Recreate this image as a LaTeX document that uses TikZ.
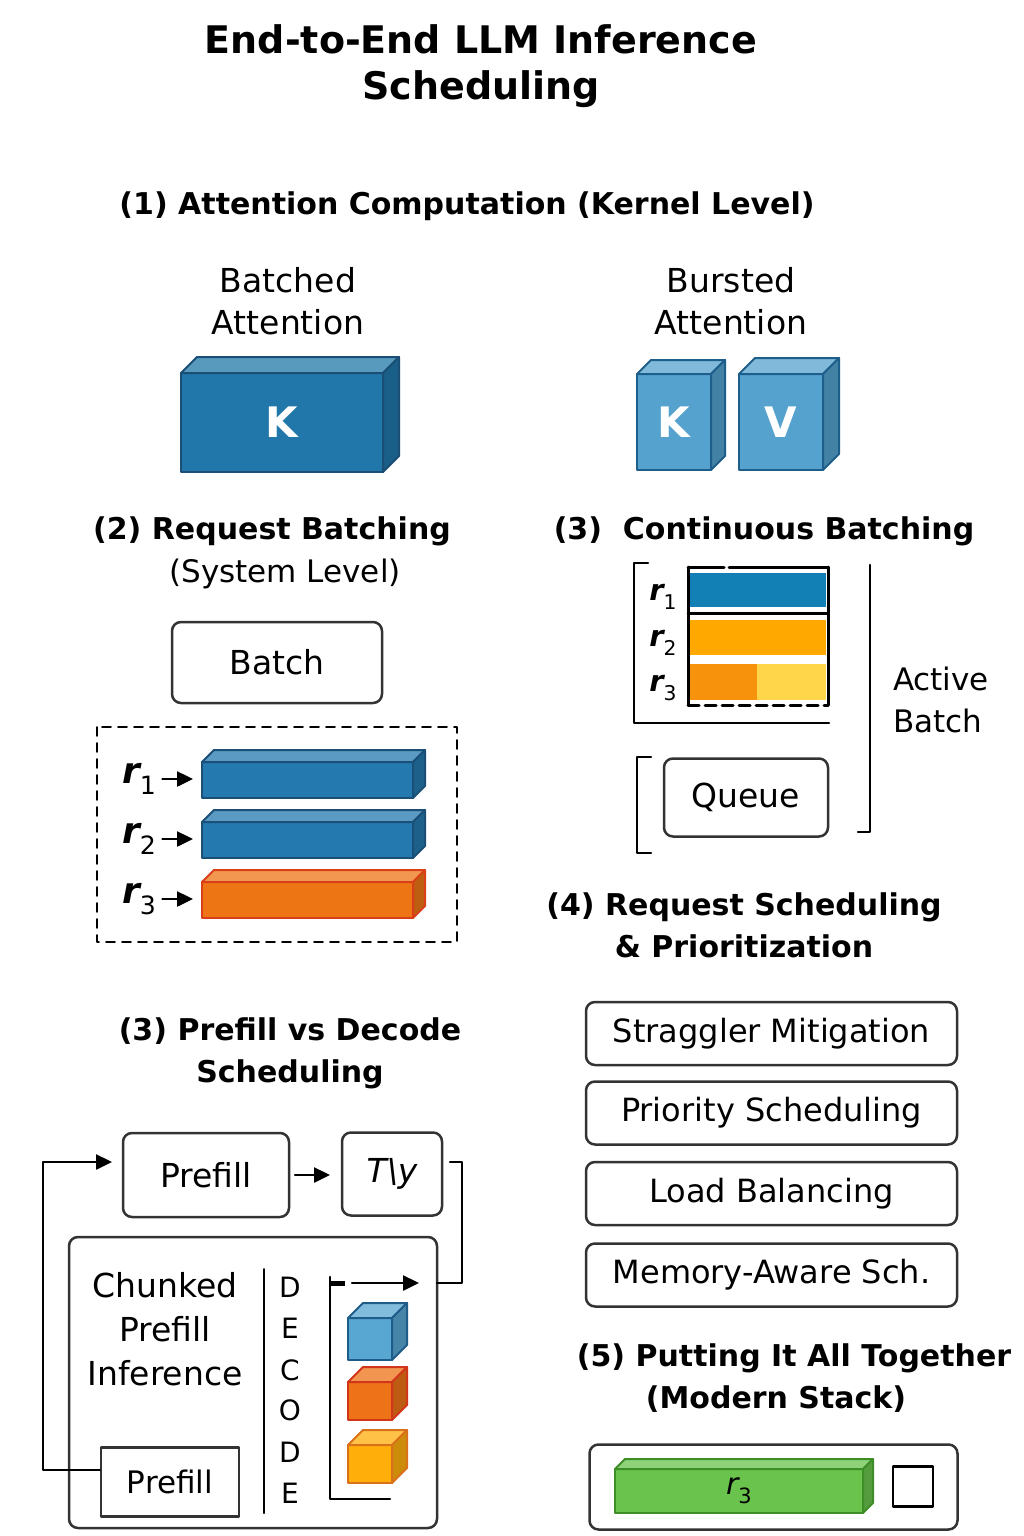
\documentclass[tikz,border=0pt]{standalone}
\usepackage{fontspec}
\setmainfont{DejaVu Sans}
\usetikzlibrary{arrows.meta}
\definecolor{kdark}{HTML}{2177A9}
\definecolor{edgekdark}{HTML}{1B4E74}
\definecolor{klight}{HTML}{55A2CE}
\definecolor{edgeklight}{HTML}{1E5E8A}
\definecolor{reqblue}{HTML}{2479AE}
\definecolor{edgereqblue}{HTML}{1A4F77}
\definecolor{reqorange}{HTML}{EE7514}
\definecolor{edgereqorange}{HTML}{D9401A}
\definecolor{cubeblue}{HTML}{58A6D2}
\definecolor{edgecubeblue}{HTML}{1F5C88}
\definecolor{cubered}{HTML}{EE7217}
\definecolor{edgecubered}{HTML}{D2361A}
\definecolor{cubeyel}{HTML}{FFAE0A}
\definecolor{edgecubeyel}{HTML}{D9701A}
\definecolor{stackgreen}{HTML}{69C34C}
\definecolor{edgestackgreen}{HTML}{3E8E27}
\definecolor{cbblue}{HTML}{1380B5}
\definecolor{cborange}{HTML}{FFA800}
\definecolor{cbdark}{HTML}{F7920C}
\definecolor{cbyellow}{HTML}{FFD54A}
\definecolor{boxgray}{HTML}{333333}
% front face as a node, top and side drawn on it
\newcommand{\cuboid}[9]{%
  \node[face,fill=#7,draw=#8,minimum width=#4pt,minimum height=#5pt,anchor=north west] (#1) at (#2,#3) {#9};
  \draw[face,fill=#7!75!white,draw=#8] (#1.north west) -- ++(#6pt,#6pt) -- ++(#4pt,0pt) -- (#1.north east) -- cycle;
  \draw[face,fill=#7!80!black,draw=#8] (#1.north east) -- ++(#6pt,#6pt) -- ++(0pt,-#5pt) -- (#1.south east) -- cycle;
}
\newcommand{\reqlabel}[1]{\textbf{\textit{r}}\kern-0.05em\raisebox{-0.3em}{\scalebox{0.7}{\mdseries\upshape #1}}}

\begin{document}
\begin{tikzpicture}[x=1pt,y=-1pt,line cap=round,line join=round,
  ttl/.style={font=\fontsize{38}{46}\selectfont\bfseries,align=center},
  hd/.style={font=\fontsize{30}{42}\selectfont\bfseries,align=center},
  txt/.style={font=\fontsize{33}{42}\selectfont,align=center},
  rbox/.style={draw=boxgray,line width=2.5pt,rounded corners=9pt,inner sep=0pt,outer sep=0pt},
  face/.style={line width=2pt,inner sep=0pt,outer sep=0pt},
  conn/.style={line width=2.5pt},
  >={Triangle[length=16pt,width=15pt]}]
\useasboundingbox (0,0) rectangle (1024,1536);

\node[ttl] (title) at (481,66) {End-to-End LLM Inference\\Scheduling};

% (1) kernel level
\node[hd] (h1) at (467,206) {(1) Attention Computation (Kernel Level)};
\node[txt] (batched) at (288,301) {Batched\\Attention};
\node[txt] (bursted) at (731,301) {Bursted\\Attention};
\cuboid{kbig}{181}{373}{202}{99}{16}{kdark}{edgekdark}{\fontsize{42}{42}\selectfont\bfseries\color{white}K}
\cuboid{ksmall}{637}{374}{74}{96}{14}{klight}{edgeklight}{\fontsize{42}{42}\selectfont\bfseries\color{white}K}
\cuboid{vsmall}{739}{374}{84}{96}{16}{klight}{edgeklight}{\fontsize{42}{42}\selectfont\bfseries\color{white}V}

% (2) request batching
\node[hd] (h2) at (272,531) {(2) Request Batching};
\node[font=\fontsize{31}{36}\selectfont] (h2b) at (285,574) {(System Level)};
\node[rbox,txt,minimum width=210pt,minimum height=81pt] (batch) at (277,662.5) {Batch};
\draw[line width=1.8pt,dash pattern=on 9pt off 7pt] (97,727) rectangle (457,942);
\foreach \i/\y/\col in {1/762/reqblue,2/822/reqblue,3/882/reqorange}{
  \cuboid{bar\i}{202}{\y}{211}{36}{12}{\col}{edge\col}{}
  \node[font=\fontsize{36}{36}\selectfont] (r\i) at (139,\y+17) {\reqlabel{\i}};
  \draw[conn,->,shorten <=3pt,shorten >=9pt] (r\i.east) -- (r\i.east -| bar\i.west);
}

% (3) continuous batching
\node[hd] (h3) at (764,531) {(3)\ \ Continuous Batching};
\fill[cbblue] (690,573) rectangle (826,607);
\fill[cborange] (690,620) rectangle (826,655);
\fill[cbdark] (690,664) rectangle (757,700);
\fill[cbyellow] (757,664) rectangle (826,700);
\draw[line width=3pt] (688,567) -- (688,705);
\draw[line width=3pt] (828,567) -- (828,705);
\draw[line width=3pt] (688,613) -- (828,613);
\draw[line width=3pt,dash pattern=on 36pt off 5pt on 200pt off 0pt] (688,567) -- (828,567);
\draw[line width=3pt,dash pattern=on 11pt off 6pt] (688,705) -- (828,705);
\foreach \i/\y in {1/597,2/643,3/688}
  \node[font=\fontsize{29}{29}\selectfont] (c\i) at (663,\y) {\reqlabel{\i}};
\draw[conn] (648,563) -- (634,563) -- (634,723) -- (829,723);
\draw[conn] (870,565) -- (870,832) -- (858,832);
\draw[conn] (651,757) -- (637,757) -- (637,853) -- (651,853);
\node[rbox,txt,minimum width=164pt,minimum height=78pt] (queue) at (746,797.5) {Queue};
\node[font=\fontsize{31}{42}\selectfont,align=left] (active) at (941,700) {Active\\Batch};

% (4) request scheduling
\node[hd] (h4) at (744,925) {(4) Request Scheduling\\\& Prioritization};
\foreach \n/\y/\t in {1/1031.5/Straggler Mitigation,2/1111/Priority Scheduling,3/1191.5/Load Balancing,4/1273/Memory-Aware Sch.}
  \node[rbox,font=\fontsize{32}{36}\selectfont,minimum width=371pt,minimum height=63pt] (sched\n) at (771.5,\y+2) {\t};

% (5) modern stack
\node[hd] (h5) at (794,1358) {(5) Putting It All Together};
\node[hd] (h5b) at (776,1399) {(Modern Stack)};
\node[rbox,minimum width=368pt,minimum height=85pt] (stack) at (773.5,1487) {};
\cuboid{gbar}{615}{1469}{248}{44}{10}{stackgreen}{edgestackgreen}{\fontsize{30}{30}\selectfont\itshape r\raisebox{-0.3em}{\scalebox{0.7}{\upshape 3}}}
\node[draw,line width=2.5pt,minimum size=40pt,inner sep=0pt] (slot) at (913,1486.5) {};

% (3) prefill vs decode
\node[hd] (h6) at (290,1053) {(3) Prefill vs Decode\\Scheduling};
\node[rbox,txt,minimum width=166pt,minimum height=84pt] (pf1) at (206,1175) {Prefill};
\node[rbox,txt,minimum width=100pt,minimum height=83pt] (tly) at (392,1174) {\itshape T\textbackslash y};
\draw[conn,->,shorten <=6pt,shorten >=12pt] (pf1.east) -- (pf1.east -| tly.west);
\node[rbox,minimum width=368pt,minimum height=291pt] (chunk) at (253,1382.5) {};
\node[font=\fontsize{33}{44}\selectfont,align=center] (ctext) at (165,1329) {Chunked\\Prefill\\Inference};
\node[draw=boxgray,line width=2.5pt,font=\fontsize{31}{36}\selectfont,minimum width=138pt,minimum height=69pt,inner sep=0pt] (pf2) at (170,1482) {Prefill};
\draw[line width=2pt] (264,1269) -- (264,1513);
\foreach \l/\y [count=\k] in {D/1287,E/1328,C/1370,O/1410,D/1452,E/1493}
  \node[font=\fontsize{28}{28}\selectfont] (dec\k) at (290,\y) {\l};
\draw[conn] (330,1277) -- (330,1499) -- (390,1499);
\draw[line width=5pt,line cap=butt] (330,1283) -- (345,1283);
\coordinate (dtop) at (352,1283);
\coordinate (dend) at (419,1283);
\draw[conn,->] (dtop) -- (dend);
\cuboid{cube1}{348}{1318}{44}{42}{15}{cubeblue}{edgecubeblue}{}
\cuboid{cube2}{348}{1382}{44}{38}{15}{cubered}{edgecubered}{}
\cuboid{cube3}{348}{1445}{44}{38}{15}{cubeyel}{edgecubeyel}{}
\draw[conn,->] ([yshift=12pt]pf2.west) -- ++(-57pt,0pt) |- ([shift={(-11pt,13pt)}]pf1.west);
\draw[conn] ([shift={(8pt,12pt)}]tly.east) -- ++(12pt,0pt) |- (chunk.east |- dend);
\end{tikzpicture}
\end{document}
